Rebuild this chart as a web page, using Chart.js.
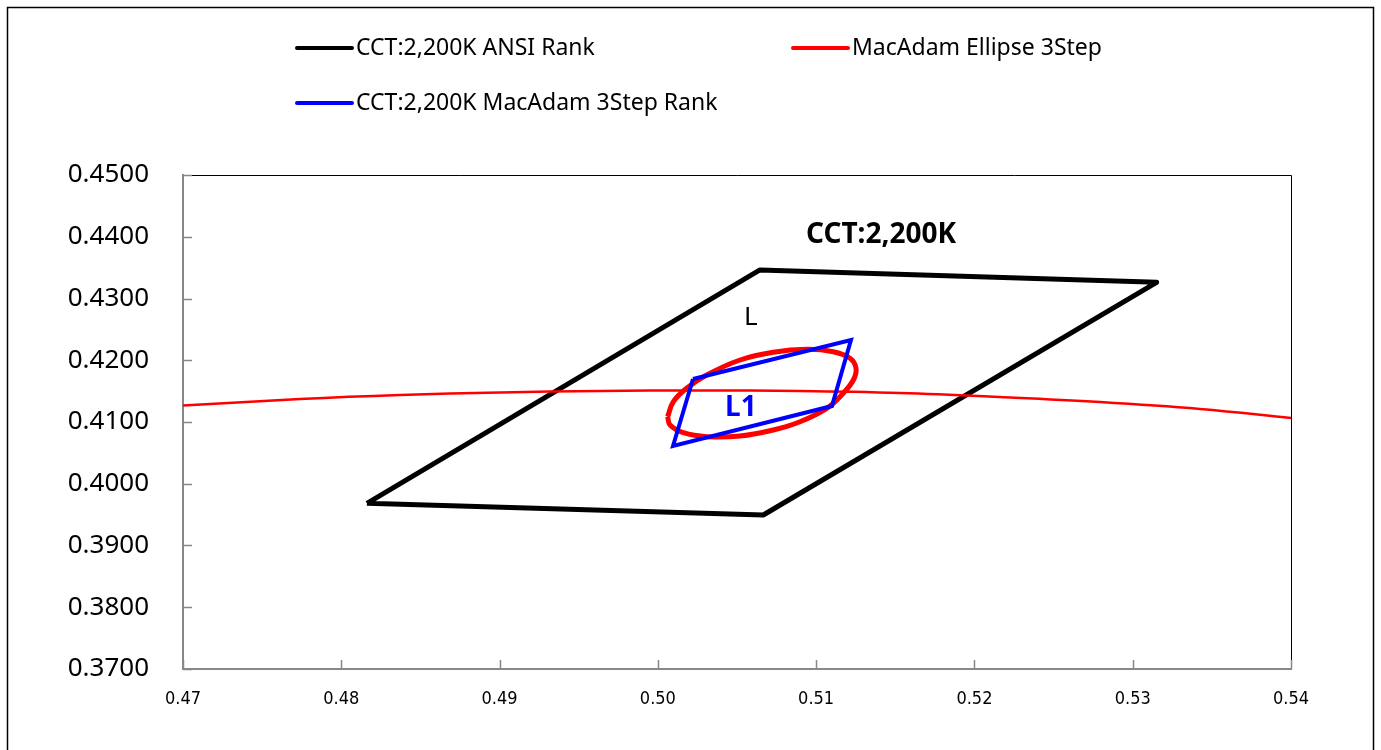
<!DOCTYPE html>
<html>
<head>
<meta charset="utf-8">
<title>CCT 2,200K</title>
<script src="https://cdn.jsdelivr.net/npm/chart.js@4.4.1/dist/chart.umd.min.js"></script>
<style>
  html, body { margin: 0; padding: 0; background: #fff; }
  #wrap { position: relative; width: 1381px; height: 750px; }
</style>
</head>
<body>
<div id="wrap"><canvas id="myChart" width="1381" height="750"></canvas></div>
<script>
// ANSI rank quadrangle (closed)
var ansiX = [0.48162, 0.50645, 0.53151, 0.50666, 0.48162];
var ansiY = [0.39683, 0.43462, 0.43262, 0.39494, 0.39683];

// MacAdam 3step rank (L1)
var rankX = [0.50222, 0.51220, 0.51100, 0.50096, 0.50222];
var rankY = [0.41696, 0.42328, 0.41259, 0.40611, 0.41696];

// MacAdam ellipse 3step, read around the outline
var ellipseX = [0.50062, 0.50098, 0.50182, 0.50308, 0.50519, 0.50729, 0.50940, 0.51108, 0.51214, 0.51252,
                0.51235, 0.51171, 0.51067, 0.50898, 0.50729, 0.50519, 0.50308, 0.50161, 0.50077, 0.50062];
var ellipseY = [0.41086, 0.41329, 0.41546, 0.41761, 0.42004, 0.42129, 0.42177, 0.42138, 0.42032, 0.41870,
                0.41680, 0.41465, 0.41222, 0.41005, 0.40870, 0.40773, 0.40762, 0.40827, 0.40951, 0.41086];

// black body locus
var locusX = [0.47000, 0.47739, 0.48371, 0.49003, 0.49635, 0.50266, 0.50898, 0.51530, 0.52162, 0.52794, 0.53426, 0.54000];
var locusY = [0.41267, 0.41372, 0.41437, 0.41478, 0.41502, 0.41510, 0.41502, 0.41470, 0.41405, 0.41324, 0.41211, 0.41065];

var legendNames = ['CCT:2,200K ANSI Rank', 'MacAdam Ellipse 3Step', 'CCT:2,200K MacAdam 3Step Rank'];
var legendColors = ['#000000', '#ff0000', '#0000ff'];

var notes = [
  { text: 'CCT:2,200K', x: 0.5141, y: 0.44028, color: '#000', font: 'bold 28px "Noto Sans", sans-serif' },
  { text: 'L', x: 0.50588, y: 0.42684, color: '#000', font: '26px "Noto Sans", sans-serif' },
  { text: 'L1', x: 0.50525, y: 0.41227, color: '#0000ff', font: 'bold 28px "Noto Sans", sans-serif' }
];

function pts(xs, ys) {
  var out = [];
  for (var i in xs) {
    out.push({ x: xs[i], y: ys[i] });
  }
  return out;
}

var extras = {
  id: 'extras',
  afterDraw: function(chart) {
    var c = chart.ctx;
    var a = chart.chartArea;
    var sx = chart.scales.x, sy = chart.scales.y;
    c.save();

    // outer frame
    c.strokeStyle = '#000';
    c.lineWidth = 1.5;
    c.strokeRect(7.5, 7.5, 1366, 800);

    // top / right border of plot
    c.lineWidth = 1;
    c.beginPath();
    c.moveTo(a.left, a.top + 0.5);
    c.lineTo(a.right + 0.5, a.top + 0.5);
    c.lineTo(a.right + 0.5, a.bottom);
    c.stroke();

    // inward ticks
    c.strokeStyle = '#888';
    c.lineWidth = 1.5;
    c.beginPath();
    sy.ticks.forEach(function(t) {
      var py = Math.round(sy.getPixelForValue(t.value)) + 0.5;
      c.moveTo(a.left, py);
      c.lineTo(a.left + 9, py);
    });
    sx.ticks.forEach(function(t) {
      var px = Math.round(sx.getPixelForValue(t.value)) + 0.5;
      c.moveTo(px, a.bottom);
      c.lineTo(px, a.bottom - 9);
    });
    c.stroke();

    // legend
    var spots = [[297, 48], [793, 48], [297, 103]];
    c.font = '23px "Noto Sans", sans-serif';
    c.textBaseline = 'middle';
    c.textAlign = 'left';
    for (var i = 0; i < legendNames.length; i++) {
      c.strokeStyle = legendColors[i];
      c.lineWidth = 4;
      c.lineCap = 'round';
      c.beginPath();
      c.moveTo(spots[i][0], spots[i][1]);
      c.lineTo(spots[i][0] + 55, spots[i][1]);
      c.stroke();
      c.fillStyle = '#000';
      c.fillText(legendNames[i], spots[i][0] + 59, spots[i][1]);
    }

    // notes
    c.textAlign = 'center';
    notes.forEach(function(n) {
      c.font = n.font;
      c.fillStyle = n.color;
      c.fillText(n.text, sx.getPixelForValue(n.x), sy.getPixelForValue(n.y));
    });
    c.restore();
  }
};

var ctx = document.getElementById('myChart');

var chart = new Chart(ctx, {
  type: 'scatter',
  data: {
    datasets: [
      {
        label: legendNames[2],
        data: pts(rankX, rankY),
        showLine: true,
        borderColor: '#0000ff',
        borderWidth: 4,
        pointRadius: 0,
        tension: 0,
        order: 0
      },
      {
        label: legendNames[1],
        data: pts(ellipseX, ellipseY),
        showLine: true,
        borderColor: '#ff0000',
        borderWidth: 5,
        borderJoinStyle: 'round',
        pointRadius: 0,
        tension: 0.4,
        order: 1
      },
      {
        label: 'locus',
        data: pts(locusX, locusY),
        showLine: true,
        borderColor: '#ff0000',
        borderWidth: 2.5,
        pointRadius: 0,
        tension: 0.4,
        order: 2
      },
      {
        label: legendNames[0],
        data: pts(ansiX, ansiY),
        showLine: true,
        borderColor: '#000000',
        borderWidth: 5,
        borderJoinStyle: 'round',
        pointRadius: 0,
        tension: 0,
        order: 3
      }
    ]
  },
  options: {
    responsive: false,
    animation: false,
    layout: { padding: { top: 175, right: 90, left: 0, bottom: 0 } },
    plugins: {
      legend: { display: false },
      tooltip: { enabled: false }
    },
    scales: {
      x: {
        type: 'linear',
        min: 0.47,
        max: 0.54,
        afterFit: function(s) { s.height = 81; },
        grid: { display: true, drawOnChartArea: false, drawTicks: false },
        border: { color: '#888', width: 2 },
        ticks: {
          stepSize: 0.01,
          padding: 20,
          color: '#000',
          font: { family: '"DejaVu Sans Condensed", "DejaVu Sans", sans-serif', size: 18 },
          callback: function(v) { return v.toFixed(2); }
        }
      },
      y: {
        type: 'linear',
        min: 0.37,
        max: 0.45,
        afterFit: function(s) { s.width = 183; },
        grid: { display: true, drawOnChartArea: false, drawTicks: false },
        border: { color: '#888', width: 2 },
        ticks: {
          stepSize: 0.01,
          padding: 34,
          color: '#000',
          font: { family: '"Noto Sans", sans-serif', size: 26 },
          callback: function(v) { return v.toFixed(4); }
        }
      }
    }
  },
  plugins: [extras]
});
</script>
</body>
</html>
